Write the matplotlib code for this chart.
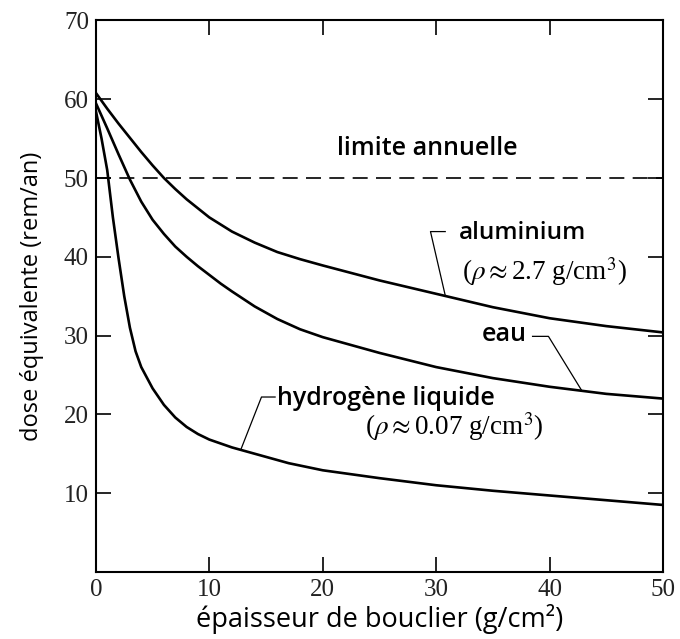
import matplotlib
matplotlib.use("Agg")
import matplotlib.pyplot as plt

# values
alu_x = [0, 1, 2, 3, 4, 5, 6, 7, 8, 10, 12, 14, 16, 18, 20, 25, 30, 35,
         40, 45, 50]
alu_y = [60.8, 58.8, 56.9, 55.1, 53.3, 51.6, 50.0, 48.6, 47.3, 45.0, 43.2,
         41.8, 40.6, 39.7, 38.9, 37.0, 35.3, 33.6, 32.2, 31.2, 30.4]

eau_x = [0, 1, 2, 3, 4, 5, 6, 7, 8, 9, 10, 11, 12, 14, 16, 18, 20, 25, 30,
         35, 40, 45, 50]
eau_y = [59.5, 56.3, 53.0, 49.8, 47.0, 44.7, 42.9, 41.3, 40.0, 38.8, 37.7,
         36.6, 35.6, 33.7, 32.1, 30.8, 29.8, 27.8, 26.0, 24.6, 23.5, 22.6,
         22.0]

h2_x = [0, 0.5, 1, 1.5, 2, 2.5, 3, 3.5, 4, 5, 6, 7, 8, 9, 10, 11, 12, 14,
        17, 20, 25, 30, 35, 40, 45, 50]
h2_y = [58.5, 55.0, 51.0, 45.0, 39.8, 35.0, 31.0, 28.0, 26.0, 23.3, 21.2,
        19.6, 18.4, 17.5, 16.8, 16.3, 15.8, 15.0, 13.8, 12.9, 11.9, 11.0,
        10.3, 9.7, 9.1, 8.5]

limite = 50
x_ticks = [0, 10, 20, 30, 40, 50]
y_ticks = [10, 20, 30, 40, 50, 60, 70]

sans = "Open Sans"
serif = "Liberation Serif"
plt.rcParams["mathtext.fontset"] = "stix"

fig = plt.figure(figsize=(6.8, 6.39), dpi=100)
ax = fig.add_axes([0.141, 0.105, 0.834, 0.863])

lw = 1.9
ax.plot(alu_x, alu_y, color="black", lw=lw)
ax.plot(eau_x, eau_y, color="black", lw=lw)
ax.plot(h2_x, h2_y, color="black", lw=lw)
ax.axhline(limite, color="black", lw=1.2, dashes=(9, 5))

ax.set_xlim(0, 50)
ax.set_ylim(0, 70)
ax.set_xticks(x_ticks)
ax.set_yticks(y_ticks)
ax.tick_params(direction="in", length=11, width=1.2, top=True, right=True,
               labelsize=18, pad=5, labelcolor="#222222")
for lab in ax.get_xticklabels() + ax.get_yticklabels():
    lab.set_family(serif)
for s in ax.spines.values():
    s.set_linewidth(1.5)

ax.set_xlabel("épaisseur de bouclier (g/cm²)", family=sans, fontsize=19.5,
              labelpad=2)
ax.set_ylabel("dose équivalente (rem/an)", family=sans, fontsize=17,
              labelpad=14)

# annotations
ax.text(29.2, 53.8, "limite annuelle", family=sans, fontsize=18,
        fontweight="semibold", ha="center", va="center")

ax.text(32.0, 43.0, "aluminium", family=sans, fontsize=17.5,
        fontweight="semibold", va="center")
ax.text(32.3, 38.1, r"($\rho \approx$2.7 g/cm$^3$)", family=serif,
        fontsize=19.5, va="center")
ax.plot([30.8, 29.5, 30.8], [35.1, 43.2, 43.2], color="black", lw=0.9)

ax.text(34.0, 30.1, "eau", family=sans, fontsize=18, fontweight="semibold",
        va="center")
ax.plot([38.5, 39.9, 42.8], [29.9, 29.9, 23.1], color="black", lw=0.9)

ax.text(16.0, 22.0, "hydrogène liquide", family=sans, fontsize=18,
        fontweight="semibold", va="center")
ax.text(23.7, 18.4, r"($\rho \approx$0.07 g/cm$^3$)", family=serif,
        fontsize=19.5, va="center")
ax.plot([12.8, 14.6, 15.8], [15.6, 22.2, 22.2], color="black", lw=0.9)

fig.savefig("out.png", dpi=100)
